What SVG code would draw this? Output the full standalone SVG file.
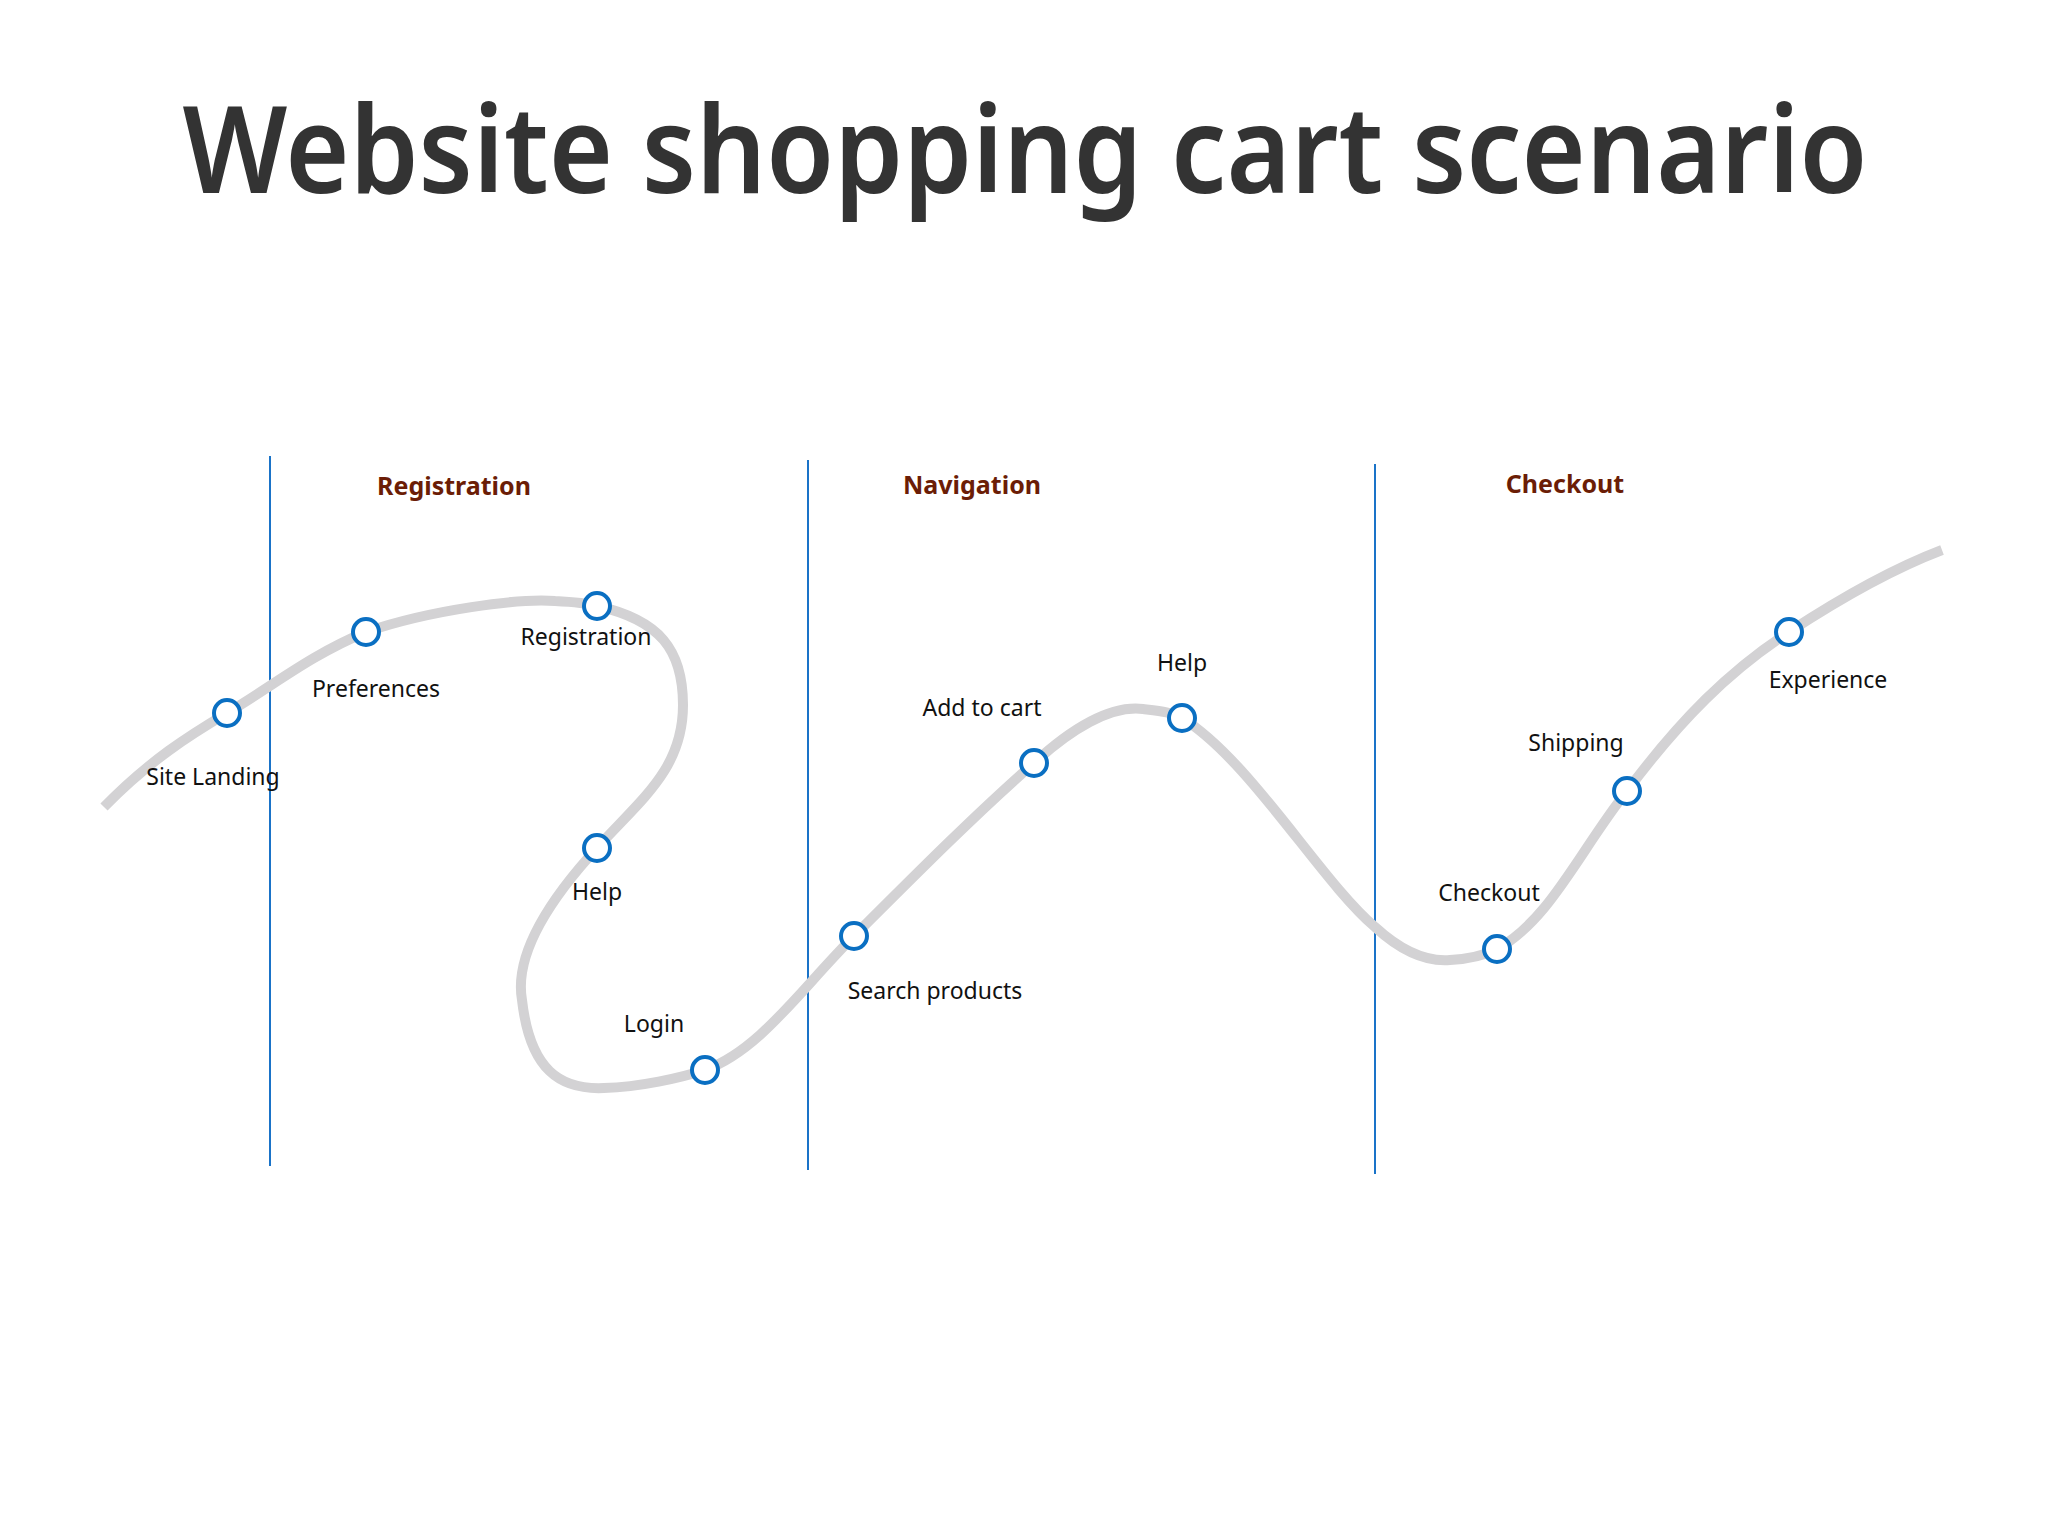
<svg xmlns="http://www.w3.org/2000/svg" width="2048" height="1536" viewBox="0 0 2048 1536">
<style>
.t{font-family:"Noto Sans","Open Sans",sans-serif;font-weight:600;font-size:122px;fill:#333;text-anchor:middle}
.h{font-family:"Noto Sans","Open Sans",sans-serif;font-weight:700;font-size:25px;fill:#6b1d06;text-anchor:middle}
.l{font-family:"Noto Sans","Open Sans",sans-serif;font-size:23px;fill:#111;text-anchor:middle}
.n{fill:#fff;stroke:#0a6fc2;stroke-width:4}
.v{stroke:#1a73c8;stroke-width:2}
</style>
<rect width="2048" height="1536" fill="#fff"/>
<text class="t" x="1025" y="193" textLength="1685" lengthAdjust="spacingAndGlyphs">Website shopping cart scenario</text>
<g id="dividers">
<line class="v" x1="270" y1="456" x2="270" y2="1166"/>
<line class="v" x1="808" y1="460" x2="808" y2="1170"/>
<line class="v" x1="1375" y1="464" x2="1375" y2="1174"/>
</g>
<g id="phases">
<text class="h" x="454" y="495">Registration</text>
<text class="h" x="972" y="494">Navigation</text>
<text class="h" x="1565" y="493">Checkout</text>
</g>
<g id="connectors">
<path fill="none" stroke="#d3d2d4" stroke-width="10" d="M104,807 C150,760 190,735 227,713 C270,688 310,655 366,632 C430,610 520,598 555,601 C575,602 590,604 597,606 C660,620 683,650 683,705 C683,770 640,800 597,848 C540,910 515,960 522,1000 C530,1070 560,1090 604,1088 C640,1087 680,1078 705,1070 C760,1050 800,990 854,936 C920,870 980,810 1034,763 C1070,730 1110,705 1143,709 C1160,711 1172,712 1182,718 C1250,760 1320,880 1375,927 C1400,950 1425,962 1450,960 C1470,959 1485,955 1497,949 C1550,920 1580,850 1627,791 C1680,720 1730,670 1789,632 C1850,592 1900,566 1942,550"/>
</g>
<g id="site-landing"><circle class="n" cx="227" cy="713" r="13"/><text class="l" x="213" y="785">Site Landing</text></g>
<g id="preferences"><circle class="n" cx="366" cy="632" r="13"/><text class="l" x="376" y="697">Preferences</text></g>
<g id="registration"><circle class="n" cx="597" cy="606" r="13"/><text class="l" x="586" y="645">Registration</text></g>
<g id="help1"><circle class="n" cx="597" cy="848" r="13"/><text class="l" x="597" y="900">Help</text></g>
<g id="login"><circle class="n" cx="705" cy="1070" r="13"/><text class="l" x="654" y="1032">Login</text></g>
<g id="search"><circle class="n" cx="854" cy="936" r="13"/><text class="l" x="935" y="999">Search products</text></g>
<g id="add-to-cart"><circle class="n" cx="1034" cy="763" r="13"/><text class="l" x="982" y="716">Add to cart</text></g>
<g id="help2"><circle class="n" cx="1182" cy="718" r="13"/><text class="l" x="1182" y="671">Help</text></g>
<g id="checkout"><circle class="n" cx="1497" cy="949" r="13"/><text class="l" x="1489" y="901">Checkout</text></g>
<g id="shipping"><circle class="n" cx="1627" cy="791" r="13"/><text class="l" x="1576" y="751">Shipping</text></g>
<g id="experience"><circle class="n" cx="1789" cy="632" r="13"/><text class="l" x="1828" y="688">Experience</text></g>
</svg>
